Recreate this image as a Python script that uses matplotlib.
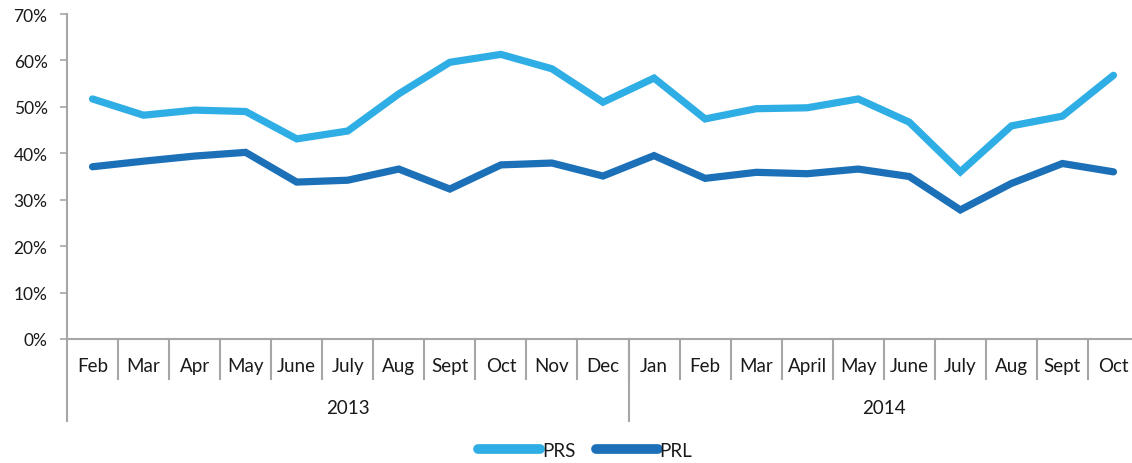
import matplotlib
matplotlib.use('Agg')
import matplotlib.pyplot as plt
import matplotlib.transforms as mtransforms
from matplotlib.lines import Line2D
from matplotlib.ticker import FuncFormatter

plt.rcParams['font.family'] = ['Lato', 'DejaVu Sans']

months = ['Feb', 'Mar', 'Apr', 'May', 'June', 'July', 'Aug', 'Sept', 'Oct', 'Nov', 'Dec',
          'Jan', 'Feb', 'Mar', 'April', 'May', 'June', 'July', 'Aug', 'Sept', 'Oct']
years = ['2013', '2014']
year_counts = [11, 10]

prs = [51.7, 48.2, 49.3, 49.0, 43.1, 44.8, 52.8, 59.6, 61.3, 58.2, 51.0,
       56.2, 47.4, 49.6, 49.8, 51.7, 46.7, 36.0, 45.9, 48.0, 56.8]
prl = [37.1, 38.3, 39.4, 40.2, 33.8, 34.2, 36.6, 32.3, 37.5, 37.9, 35.1,
       39.5, 34.6, 35.9, 35.6, 36.6, 35.0, 27.8, 33.5, 37.8, 36.0]

c_prs = '#2EAEE4'
c_prl = '#1B70B8'
grey = '#A6A6A6'
txt = '#1A1A1A'
lab_size = 13.5

W, H = 1132, 464
fig = plt.figure(figsize=(W / 100, H / 100), dpi=100)
ax = fig.add_axes([67 / W, (H - 340) / H, (1139 - 67) / W, 325 / H])

x = list(range(len(months)))
ax.plot(x, prs, color=c_prs, lw=5.2, solid_capstyle='round', solid_joinstyle='miter')
ax.plot(x, prl, color=c_prl, lw=5.2, solid_capstyle='round', solid_joinstyle='miter')

ax.set_xlim(-0.5, len(months) - 0.5)
ax.set_ylim(0, 70)
ax.set_yticks(range(0, 71, 10))
ax.yaxis.set_major_formatter(FuncFormatter(lambda v, p: f'{int(v)}%'))
ax.tick_params(axis='y', length=5, width=1.2, color=grey, labelsize=12.5, labelcolor=txt, pad=9)
ax.set_xticks([])

for s in ['top', 'right']:
    ax.spines[s].set_visible(False)
for s in ['left', 'bottom']:
    ax.spines[s].set_color(grey)
    ax.spines[s].set_linewidth(1.5)

# multi-level category axis
trans = mtransforms.blended_transform_factory(ax.transData, ax.transAxes)
for i, m in enumerate(months):
    ax.text(i, -0.0815, m, transform=trans, ha='center', va='center', fontsize=lab_size, color=txt)
for b in range(1, len(months) + 1):
    ax.plot([b - 0.5, b - 0.5], [0, -0.123], transform=trans, color=grey, lw=1.5, clip_on=False)

start = 0
for yr, n in zip(years, year_counts):
    ax.plot([start - 0.5, start - 0.5], [0, -0.252], transform=trans, color=grey, lw=1.5, clip_on=False)
    ax.text(start + (n - 1) / 2, -0.212, yr, transform=trans, ha='center', va='center', fontsize=lab_size, color=txt)
    start += n
ax.plot([start - 0.5, start - 0.5], [0, -0.252], transform=trans, color=grey, lw=1.5, clip_on=False)

handles = [Line2D([], [], color=c_prs, lw=7, solid_capstyle='round'),
           Line2D([], [], color=c_prl, lw=7, solid_capstyle='round')]
fig.legend(handles, ['PRS', 'PRL'], loc='center', bbox_to_anchor=(0.517, 0.028), ncol=2,
           frameon=False, fontsize=lab_size, handlelength=3.3, handletextpad=0.1, columnspacing=1.1,
           labelcolor=txt)

fig.savefig('out.png', dpi=100)
